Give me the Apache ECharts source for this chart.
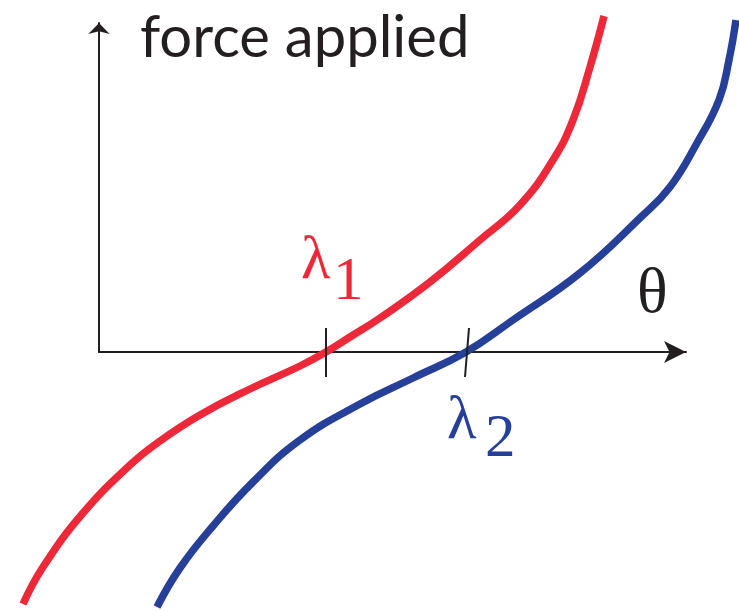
<!DOCTYPE html>
<html>
<head>
<meta charset="utf-8">
<script src="https://cdn.jsdelivr.net/npm/echarts@6/dist/echarts.min.js"></script>
<style>
  html, body { margin: 0; padding: 0; background: #ffffff; }
  #chart { width: 739px; height: 611px; }
</style>
</head>
<body>
<div id="chart"></div>
<script>
// Force applied vs. angle theta for two systems with rest angles lambda1 and lambda2
const redTheta  = [-0.76, -0.56, -0.16, 0.31, 0.61, 1.01, 1.51, 2.01, 2.27, 2.51, 2.81, 3.31, 3.81, 4.21, 4.54, 4.74, 4.91, 5.05];
const redForce  = [-2.52, -2.15, -1.61, -1.13, -0.89, -0.63, -0.37, -0.14, 0.00, 0.15, 0.34, 0.70, 1.12, 1.47, 1.92, 2.32, 2.85, 3.36];
const blueTheta = [0.58, 0.81, 1.14, 1.54, 2.01, 2.61, 3.14, 3.67, 4.14, 4.81, 5.41, 5.71, 5.98, 6.20, 6.30, 6.37];
const blueForce = [-2.55, -2.16, -1.74, -1.30, -0.88, -0.52, -0.26, 0.00, 0.32, 0.79, 1.34, 1.65, 2.09, 2.52, 2.92, 3.32];

// Tick marks at the zero crossings (top and bottom ends)
const lambda1Tick = [[2.27, 0.24], [2.27, -0.25]];
const lambda2Tick = [[3.70, 0.24], [3.66, -0.25]];

// Visible axis extents (arrows sit at the far ends)
const axisMaxTheta = 5.87;
const axisMaxForce = 3.29;

// Plotting window for the curves (wider than the drawn axes)
const viewTheta = [-0.99, 6.40];
const viewForce = [-2.59, 3.52];

const RED = '#ED2939';
const BLUE = '#26409A';
const INK = '#231F20';

const pair = (xs, ys) => xs.map((x, i) => [x, ys[i]]);

const chart = echarts.init(document.getElementById('chart'), null, { renderer: 'canvas' });

const hidden = { axisLine: { show: false }, axisTick: { show: false }, axisLabel: { show: false }, splitLine: { show: false } };

const curve = (data, color) => ({
  type: 'line',
  xAxisIndex: 1, yAxisIndex: 1,
  data: data,
  smooth: 0.45,
  symbol: 'none',
  silent: true,
  z: 3,
  lineStyle: { color: color, width: 7.5, cap: 'butt' }
});

const tick = (data) => ({
  type: 'line',
  xAxisIndex: 1, yAxisIndex: 1,
  data: data,
  symbol: 'none',
  silent: true,
  z: 5,
  lineStyle: { color: INK, width: 2 }
});

chart.setOption({
  animation: false,
  backgroundColor: '#ffffff',
  grid: [
    { left: 99, right: 53, top: 23, bottom: 259 },
    { left: 0, right: 0, top: 0, bottom: 0 }
  ],
  xAxis: [
    {
      gridIndex: 0, type: 'value', min: 0, max: axisMaxTheta,
      axisLine: { show: true, onZero: false, symbol: ['none', 'arrow'], symbolSize: [16.5, 22],
        lineStyle: { color: INK, width: 2 } },
      axisTick: { show: false }, axisLabel: { show: false }, splitLine: { show: false }
    },
    Object.assign({ gridIndex: 1, type: 'value', min: viewTheta[0], max: viewTheta[1] }, hidden)
  ],
  yAxis: [
    {
      gridIndex: 0, type: 'value', min: 0, max: axisMaxForce,
      axisLine: { show: true, onZero: false, symbol: ['none', 'arrow'], symbolSize: [16, 11],
        lineStyle: { color: INK, width: 2 } },
      axisTick: { show: false }, axisLabel: { show: false }, splitLine: { show: false }
    },
    Object.assign({ gridIndex: 1, type: 'value', min: viewForce[0], max: viewForce[1] }, hidden)
  ],
  series: [
    curve(pair(redTheta, redForce), RED),
    curve(pair(blueTheta, blueForce), BLUE),
    tick(lambda1Tick),
    tick(lambda2Tick)
  ],
  graphic: [
    { type: 'text', z: 10, style: { text: 'force applied', x: 140, y: 38, fill: INK,
      font: '58px Lato', align: 'left', verticalAlign: 'middle' } },
    { type: 'text', z: 10, style: { text: 'θ', x: 637, y: 295, fill: INK,
      font: '64px "Liberation Serif"', align: 'left', verticalAlign: 'middle' } },
    { type: 'text', z: 10, style: { text: 'λ', x: 301, y: 262, fill: RED,
      font: '61px "Liberation Serif"', align: 'left', verticalAlign: 'middle' } },
    { type: 'text', z: 10, style: { text: '1', x: 333, y: 283, fill: RED,
      font: '61px "Liberation Serif"', align: 'left', verticalAlign: 'middle' } },
    { type: 'text', z: 10, style: { text: 'λ', x: 447, y: 422, fill: BLUE,
      font: '61px "Liberation Serif"', align: 'left', verticalAlign: 'middle' } },
    { type: 'text', z: 10, style: { text: '2', x: 485, y: 440, fill: BLUE,
      font: '61px "Liberation Serif"', align: 'left', verticalAlign: 'middle' } }
  ]
});
</script>
</body>
</html>
